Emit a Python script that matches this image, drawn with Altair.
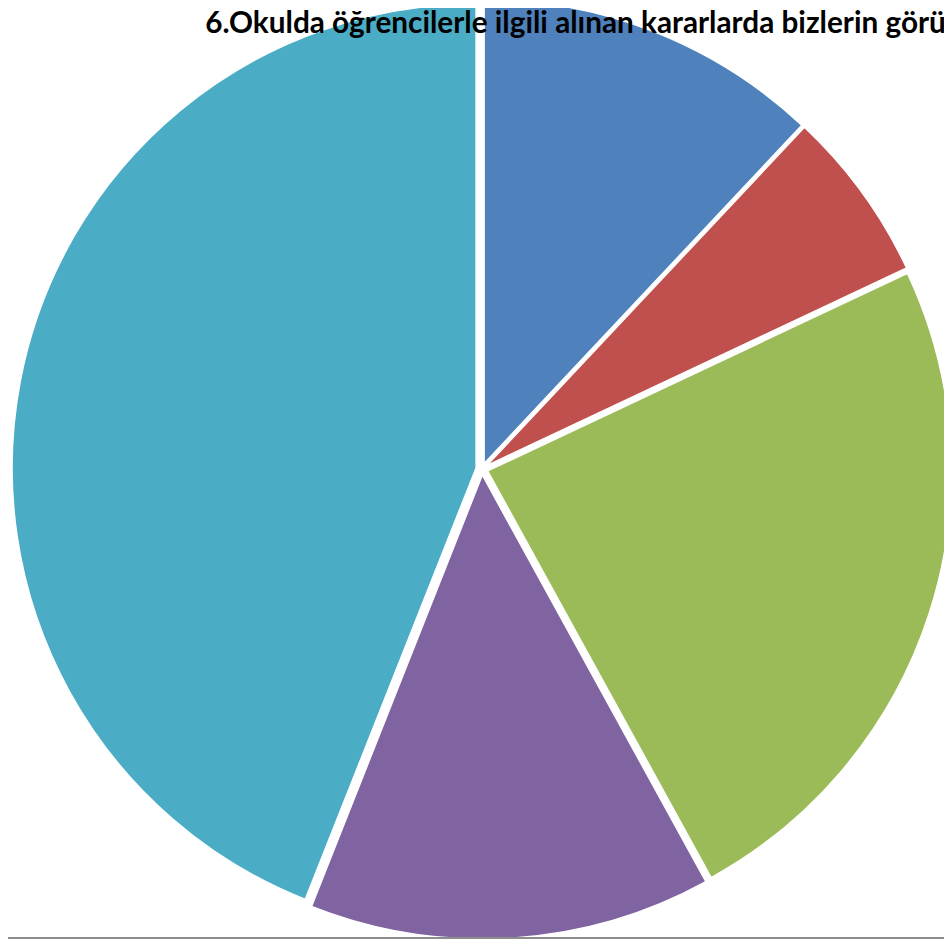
import math
import altair as alt
import pandas as pd

# Data (counts out of 50 -> 12%, 6%, 24%, 14%, 44%)
categories = ["Kesinlikle katılıyorum", "Katılıyorum", "Kararsızım", "Katılmıyorum", "Kesinlikle katılmıyorum"]
counts = [6, 3, 12, 7, 22]
colors = ["#4F81BD", "#C0504D", "#9BBB59", "#8064A2", "#4BACC6"]
title_text = "6.Okulda öğrencilerle ilgili alınan kararlarda bizlerin görüşleri alınır."

W, H = 944, 937
CX, CY, R = 478, 461, 468
EXPLODE = 6
total = sum(counts)

df = pd.DataFrame({"category": categories, "value": counts, "order": list(range(len(counts)))})

theta_scale = alt.Scale(domain=[0, total], range=[0, 2 * math.pi])
color_scale = alt.Scale(domain=categories, range=colors)

base = alt.Chart(df).transform_window(
    cum="sum(value)", sort=[alt.SortField("order")], frame=[None, 0]
).transform_calculate(start="datum.cum - datum.value")

layers = []
cum = 0
for cat, v in zip(categories, counts):
    mid = (cum + v / 2) / total * 2 * math.pi
    cum += v
    dx = EXPLODE * math.sin(mid)
    dy = -EXPLODE * math.cos(mid)
    layers.append(
        base.transform_filter(alt.datum.category == cat)
        .mark_arc(radius=R, xOffset=dx, yOffset=dy, stroke="white", strokeWidth=1.5)
        .encode(
            theta=alt.Theta("start:Q", scale=theta_scale),
            theta2="cum:Q",
            color=alt.Color("category:N", scale=color_scale, legend=None),
            x=alt.value(CX),
            y=alt.value(CY),
        )
    )

title = alt.Chart(pd.DataFrame({"t": [title_text]})).mark_text(
    align="left", baseline="alphabetic", font="Lato", fontWeight="bold", fontSize=30, color="black"
).encode(x=alt.value(199), y=alt.value(21), text="t:N")

rule = alt.Chart(pd.DataFrame({"a": [0]})).mark_rule(color="#8c8c8c", strokeWidth=2).encode(
    x=alt.value(-10), x2=alt.value(W + 10), y=alt.value(H - 3)
)

chart = alt.layer(*layers, title, rule).properties(
    width=W, height=H, autosize="none", padding=0
).configure_view(stroke=None)

chart.save("out.html", embed_options={"renderer": "svg", "actions": False})
